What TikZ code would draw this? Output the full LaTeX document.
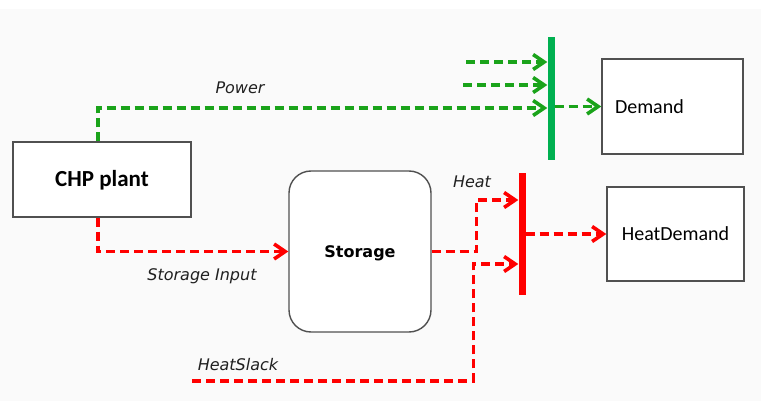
\documentclass[tikz,border=0pt]{standalone}
\usepackage{fontspec}
\newfontfamily\vfont{DejaVu Sans}
\newfontfamily\cfont{Carlito}
\usetikzlibrary{arrows.meta}
\definecolor{bg}{HTML}{FAFAFA}
\definecolor{gline}{HTML}{1AA31A}
\definecolor{gbar}{HTML}{00B050}
\definecolor{rline}{HTML}{FF0000}
\definecolor{edge}{HTML}{505050}
\definecolor{txt}{HTML}{202020}
\tikzset{
  box/.style={draw=edge, line width=1.4pt, fill=white, inner sep=0pt, text=black},
  gflow/.style={draw=gline, line width=3.6pt, dash pattern=on 9pt off 5pt, -{Straight Barb[length=11pt,width=15pt]}},
  rflow/.style={draw=rline, line width=3.6pt, dash pattern=on 9pt off 5pt, -{Straight Barb[length=11pt,width=15pt]}},
  bar/.style={inner sep=0pt, minimum width=7pt},
  lbl/.style={font=\vfont\itshape\fontsize{16}{18}\selectfont, text=txt, inner sep=0pt},
}
\begin{document}
\begin{tikzpicture}[x=1pt,y=-1pt]
\useasboundingbox (0,0) rectangle (761,401);
\fill[white] (0,0) rectangle (761,401);
\fill[bg] (0,9) rectangle (761,401);

% nodes
\node[box, minimum width=178pt, minimum height=75pt, text height=15pt, text depth=0pt, font=\cfont\bfseries\fontsize{23}{25}\selectfont] (chp) at (102,179.5) {CHP plant};
\node[box, rounded corners=22pt, minimum width=142pt, minimum height=161pt, text height=12pt, text depth=0pt, font=\vfont\bfseries\fontsize{16}{18}\selectfont] (storage) at (360,251.5) {Storage};
\node[box, text width=115pt, inner xsep=13pt, align=left, minimum height=95pt, font=\cfont\fontsize{20}{22}\selectfont] (demand) at (672.5,106.5) {Demand};
\node[box, minimum width=137pt, minimum height=94pt, font=\cfont\fontsize{20}{22}\selectfont] (heatdemand) at (675.5,234) {HeatDemand};

% buses
\node[bar, fill=gbar, minimum height=123pt] (gbus) at (551,98.5) {};
\node[bar, fill=rline, minimum height=122pt] (rbus) at (522,234) {};

% free ends
\coordinate (g1s) at (466,62);
\coordinate (g2s) at (463,85);
\coordinate (hs) at (192,381);

% power connectors
\draw[gflow] ([xshift=-4pt]chp.north) |- ([yshift=-9.5pt]gbus.west);
\draw[gflow] (g1s) -- (g1s -| gbus.west);
\draw[gflow] (g2s) -- (g2s -| gbus.west);
\draw[gflow] (gbus.east |- demand.west) -- (demand.west);

% heat connectors
\draw[rflow] ([xshift=-4pt]chp.south) |- (storage.west);
\draw[rflow] (storage.east) -| ([xshift=-42pt,yshift=34pt]rbus.west) -- ([yshift=34pt]rbus.west);
\draw[rflow] (hs) -| ([xshift=-45pt,yshift=-30pt]rbus.west) -- ([yshift=-30pt]rbus.west);
\draw[rflow] (rbus.east) -- (heatdemand.west);

% labels
\node[lbl] (lpower) at (240,88) {Power};
\node[lbl] (lsi) at (202,276) {Storage Input};
\node[lbl] (lheat) at (472,182) {Heat};
\node[lbl] (lslack) at (238,365) {HeatSlack};
\end{tikzpicture}
\end{document}
